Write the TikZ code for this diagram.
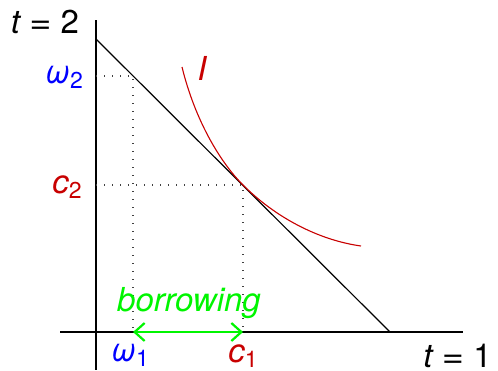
\documentclass[tikz,border=0pt]{standalone}
\usepackage{fontspec}
\setmainfont{TeX Gyre Heros}
\usetikzlibrary{arrows.meta}
\definecolor{myred}{RGB}{200,0,0}
\definecolor{mygreen}{RGB}{0,245,0}
\newcommand\lsub[1]{\raisebox{-2.6pt}{\fontsize{11.5}{13}\selectfont #1}}
\newcommand\eqsign{\hspace{0.28em}\scalebox{1.15}[1]{=}\hspace{0.28em}}
\begin{document}
\begin{tikzpicture}[x=0.5pt,y=-0.5pt,
  axis/.style={line width=0.6pt,black},
  dotline/.style={line width=0.7pt,black!75,dash pattern=on 0.7pt off 3.3pt},
  lbl/.style={inner sep=0pt,font=\fontsize{16.5}{19}\selectfont},
  curvestyle/.style={line width=0.55pt,myred}]
\useasboundingbox (0,0) rectangle (498,370);
% axes
\coordinate (ytop) at (96,20);
\coordinate (ybot) at (96,370);
\coordinate (xl) at (60,332);
\coordinate (xr) at (463,332);
\draw[axis] (ytop) -- (ybot);
\draw[axis] (xl) -- (xr);
% budget line
\coordinate (b1) at (96,39);
\coordinate (b2) at (390,332);
\draw[axis] (b1) -- (b2);
% key points
\coordinate (w2) at (96,76);
\coordinate (e) at (133,76);
\coordinate (w1) at (133,332);
\coordinate (c2p) at (96,185);
\coordinate (t) at (243,185);
\coordinate (c1p) at (243,332);
\draw[dotline] (w2) -- (e) -- (w1);
\draw[dotline] (c2p) -- (t) -- (c1p);
% indifference curve
\coordinate (i1) at (182,67);
\coordinate (i2) at (361,246);
\draw[curvestyle] (i1) .. controls (195,120) and (220,162) .. (t)
   .. controls (275,217) and (318,240) .. (i2);
% borrowing arrow
\draw[mygreen,line width=1.1pt,{Straight Barb[length=5pt,width=9pt]}-{Straight Barb[length=5pt,width=9pt]}] (w1) -- (c1p);
% labels
\node[lbl] (tt2) at (45,22) {\itshape t\upshape\eqsign 2};
\node[lbl,anchor=east] (tt1) at (492,356) {\itshape t\upshape\eqsign 1};
\node[lbl,blue] (lw2) at (64,77) {\itshape ω\upshape\lsub{2}};
\node[lbl,myred] (lc2) at (67,187) {\itshape c\upshape\lsub{2}};
\node[lbl,blue] (lw1) at (130,355) {\itshape ω\upshape\lsub{1}};
\node[lbl,myred] (lc1) at (243,356) {\itshape c\upshape\lsub{1}};
\node[lbl,myred] (lI) at (202,68) {\itshape I};
\node[lbl,mygreen] (lb) at (189,303) {\itshape borrowing};
\end{tikzpicture}
\end{document}
